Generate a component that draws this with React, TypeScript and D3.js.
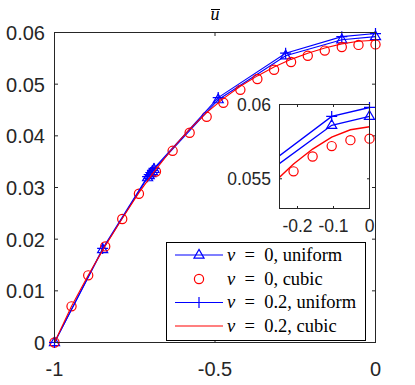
import React from 'react';
import * as d3 from 'd3';

// ---- data ----
const xUniform = [-1, -0.85, -0.71, -0.705, -0.7, -0.695, -0.69, -0.49, -0.28, -0.105, 0];
const uNu0Uniform = [0, 0.018, 0.0319, 0.0323, 0.0327, 0.0331, 0.0335, 0.047, 0.0555, 0.0586, 0.0592];
const uNu02Uniform = [0, 0.0182, 0.0321, 0.0325, 0.0329, 0.0333, 0.0337, 0.0474, 0.056, 0.0592, 0.0598];

const xCubic = [-1, -0.947, -0.895, -0.842, -0.789, -0.737, -0.684, -0.632, -0.579, -0.526,
  -0.474, -0.421, -0.368, -0.316, -0.263, -0.211, -0.158, -0.105, -0.053, 0];
const uNu0Cubic = [0, 0.007, 0.013, 0.0186, 0.0239, 0.0288, 0.0331, 0.0371, 0.0406, 0.0437,
  0.0464, 0.0489, 0.051, 0.0528, 0.0543, 0.0555, 0.0565, 0.0572, 0.0576, 0.0577];
const uNu02Cubic = [0, 0.007, 0.013, 0.0187, 0.024, 0.029, 0.0335, 0.0376, 0.0413, 0.0445,
  0.0472, 0.0496, 0.0516, 0.0533, 0.0548, 0.056, 0.057, 0.0578, 0.0583, 0.0585];

const xTicks = [-1, -0.5, 0];
const xTickLabels = ['-1', '-0.5', '0'];
const yTicks = [0, 0.01, 0.02, 0.03, 0.04, 0.05, 0.06];
const yTickLabels = ['0', '0.01', '0.02', '0.03', '0.04', '0.05', '0.06'];
const insetXTicks = [-0.2, -0.1, 0];
const insetXTickLabels = ['-0.2', '-0.1', '0'];
const insetYTicks = [0.055, 0.06];
const insetYTickLabels = ['0.055', '0.06'];
const legendNu = ['0', '0', '0.2', '0.2'];
const legendKind = ['uniform', 'cubic', 'uniform', 'cubic'];

const BLUE = '#0000ff';
const RED = '#ff0000';
const AX = '#262626';
const SANS = 'Liberation Sans, Arial, sans-serif';
const SERIF = 'Liberation Serif, Times New Roman, serif';

type Pt = [number, number];
const zip = (xs: number[], ys: number[]): Pt[] => xs.map((x, i) => [x, ys[i]]);

function Tri({ x, y }: { x: number; y: number }) {
  const r = 5.6;
  return (
    <path d={`M${x},${y - r}L${x + r * 0.9},${y + r * 0.55}L${x - r * 0.9},${y + r * 0.55}Z`}
      fill="none" stroke={BLUE} strokeWidth={1.2} />
  );
}
function Plus({ x, y }: { x: number; y: number }) {
  const r = 5.5;
  return <path d={`M${x - r},${y}H${x + r}M${x},${y - r}V${y + r}`} stroke={BLUE} strokeWidth={1.2} />;
}
function Circ({ x, y }: { x: number; y: number }) {
  return <circle cx={x} cy={y} r={4.6} fill="none" stroke={RED} strokeWidth={1.2} />;
}

function Panel({ xs, ys, id, lw }: { xs: d3.ScaleLinear<number, number>; ys: d3.ScaleLinear<number, number>; id: string; lw: number }) {
  const line = d3.line<Pt>().x(d => xs(d[0])).y(d => ys(d[1]));
  const [x0, x1] = xs.domain();
  const [y0, y1] = ys.domain();
  const inside = (p: Pt) => p[0] >= x0 - 1e-9 && p[0] <= x1 + 1e-9 && p[1] >= y0 - 1e-9 && p[1] <= y1 + 1e-9;
  const tri = zip(xUniform, uNu0Uniform);
  const circ = zip(xCubic, uNu0Cubic);
  const plus = zip(xUniform, uNu02Uniform);
  const red = zip(xCubic, uNu02Cubic);
  return (
    <g>
      <g clipPath={`url(#${id})`}>
        <path d={line(tri) || ''} fill="none" stroke={BLUE} strokeWidth={lw} />
      </g>
      {tri.filter(inside).map((p, i) => <Tri key={'t' + i} x={xs(p[0])} y={ys(p[1])} />)}
      {circ.filter(inside).map((p, i) => <Circ key={'c' + i} x={xs(p[0])} y={ys(p[1])} />)}
      <g clipPath={`url(#${id})`}>
        <path d={line(plus) || ''} fill="none" stroke={BLUE} strokeWidth={lw} />
      </g>
      {plus.filter(inside).map((p, i) => <Plus key={'p' + i} x={xs(p[0])} y={ys(p[1])} />)}
      <g clipPath={`url(#${id})`}>
        <path d={line(red) || ''} fill="none" stroke={RED} strokeWidth={lw} />
      </g>
    </g>
  );
}

export default function App() {
  const W = 415, H = 385;
  const xs = d3.scaleLinear().domain([-1, 0]).range([54.5, 375.5]);
  const ys = d3.scaleLinear().domain([0, 0.06]).range([342.5, 32.5]);
  const ixs = d3.scaleLinear().domain([-0.25, 0]).range([279.5, 369.5]);
  const iys = d3.scaleLinear().domain([0.053, 0.06]).range([208.5, 104.5]);
  const tk = 3.5;

  const [mx0, mx1] = xs.range();
  const [my0, my1] = ys.range();
  const [ix0, ix1] = ixs.range();
  const [iy0, iy1] = iys.range();

  const lgX = 166.5, lgY = 242.5, lgW = 199, lgH = 98;
  const rowY = [255, 279, 302.5, 326];

  return (
    <svg width={W} height={H} style={{ position: 'absolute', left: 0, top: 0, background: '#fff' }}>
      <defs>
        <clipPath id="mainclip"><rect x={mx0} y={my1} width={mx1 - mx0} height={my0 - my1} /></clipPath>
        <clipPath id="insetclip"><rect x={ix0} y={iy1} width={ix1 - ix0} height={iy0 - iy1} /></clipPath>
      </defs>
      <rect x={0} y={0} width={W} height={H} fill="#fff" />

      {/* main axes */}
      <Panel xs={xs} ys={ys} id="mainclip" lw={1.1} />
      <rect x={mx0} y={my1} width={mx1 - mx0} height={my0 - my1} fill="none" stroke={AX} strokeWidth={1} />
      {xTicks.map((t, i) => (
        <g key={'xt' + i}>
          <line x1={xs(t)} x2={xs(t)} y1={my0} y2={my0 - tk} stroke={AX} />
          <line x1={xs(t)} x2={xs(t)} y1={my1} y2={my1 + tk} stroke={AX} />
          <text x={xs(t)} y={376} textAnchor="middle" fontFamily={SANS} fontSize={20} fill={AX}>{xTickLabels[i]}</text>
        </g>
      ))}
      {yTicks.map((t, i) => (
        <g key={'yt' + i}>
          <line x1={mx0} x2={mx0 + tk} y1={ys(t)} y2={ys(t)} stroke={AX} />
          <line x1={mx1} x2={mx1 - tk} y1={ys(t)} y2={ys(t)} stroke={AX} />
          <text x={45} y={ys(t) + 7.5} textAnchor="end" fontFamily={SANS} fontSize={20} fill={AX}>{yTickLabels[i]}</text>
        </g>
      ))}
      {/* title */}
      <g>
        <text x={(mx0 + mx1) / 2} y={20} textAnchor="middle" fontFamily={SERIF} fontStyle="italic" fontSize={18} fill="#000">u</text>
        <line x1={(mx0 + mx1) / 2 - 4} x2={(mx0 + mx1) / 2 + 5} y1={9.5} y2={9.5} stroke="#000" strokeWidth={1} />
      </g>

      {/* inset */}
      <rect x={ix0} y={iy1} width={ix1 - ix0} height={iy0 - iy1} fill="#fff" />
      <Panel xs={ixs} ys={iys} id="insetclip" lw={1.4} />
      <rect x={ix0} y={iy1} width={ix1 - ix0} height={iy0 - iy1} fill="none" stroke={AX} strokeWidth={1} />
      {insetXTicks.map((t, i) => (
        <g key={'ixt' + i}>
          <line x1={ixs(t)} x2={ixs(t)} y1={iy0} y2={iy0 - 2.5} stroke={AX} />
          <line x1={ixs(t)} x2={ixs(t)} y1={iy1} y2={iy1 + 2.5} stroke={AX} />
          <text x={ixs(t)} y={232} textAnchor="middle" fontFamily={SANS} fontSize={17.5} fill={AX}>{insetXTickLabels[i]}</text>
        </g>
      ))}
      {insetYTicks.map((t, i) => (
        <g key={'iyt' + i}>
          <line x1={ix0} x2={ix0 + 2.5} y1={iys(t)} y2={iys(t)} stroke={AX} />
          <line x1={ix1} x2={ix1 - 2.5} y1={iys(t)} y2={iys(t)} stroke={AX} />
          <text x={271} y={iys(t) + 6.5} textAnchor="end" fontFamily={SANS} fontSize={17.5} fill={AX}>{insetYTickLabels[i]}</text>
        </g>
      ))}

      {/* legend */}
      <rect x={lgX} y={lgY} width={lgW} height={lgH} fill="#fff" stroke="#000" strokeWidth={1} />
      {legendKind.map((k, i) => {
        const y = rowY[i];
        return (
          <g key={'lg' + i}>
            {i !== 1 && <line x1={175} x2={223} y1={y} y2={y} stroke={i === 3 ? RED : BLUE} strokeWidth={1.1} />}
            {i === 0 && <Tri x={199} y={y} />}
            {i === 1 && <Circ x={199} y={y} />}
            {i === 2 && <Plus x={199} y={y} />}
            <text x={227} y={y + 5.5} fontFamily={SERIF} fontSize={18.5} fill="#000" style={{ whiteSpace: 'pre' }}>
              <tspan fontStyle="italic">ν</tspan>
              <tspan>{`  =  ${legendNu[i]}, ${k}`}</tspan>
            </text>
          </g>
        );
      })}
    </svg>
  );
}
